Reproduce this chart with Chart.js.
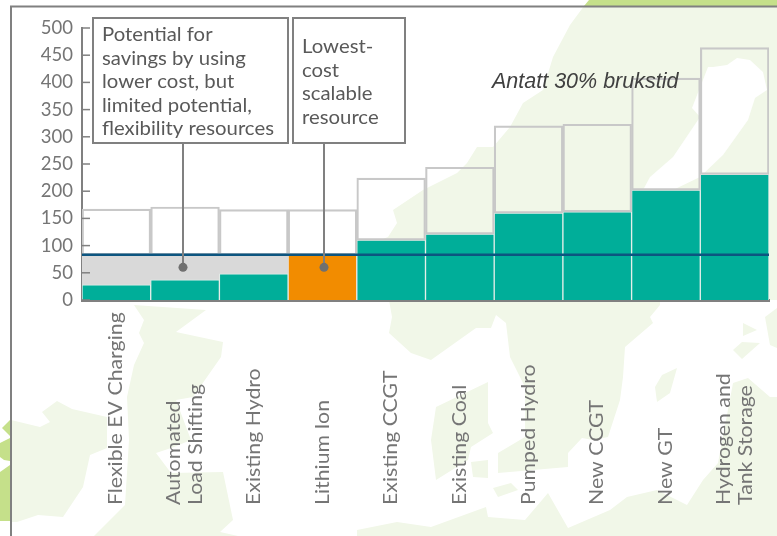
<!DOCTYPE html>
<html>
<head>
<meta charset="utf-8">
<style>
    html, body { margin: 0; padding: 0; background: #fff; }
    #wrap { position: relative; width: 777px; height: 536px; }
</style>
<script src="https://cdn.jsdelivr.net/npm/chart.js@4"></script>
</head>
<body>
<div id="wrap"><canvas id="costChart" width="777" height="536"></canvas></div>
<script>
// Values
const categories = [
    ['Flexible EV Charging'],
    ['Automated', 'Load Shifting'],
    ['Existing Hydro'],
    ['Lithium Ion'],
    ['Existing CCGT'],
    ['Existing Coal'],
    ['Pumped Hydro'],
    ['New CCGT'],
    ['New GT'],
    ['Hydrogen and', 'Tank Storage']
];
const baseCost = [28, 37, 48, null, 110, 121, 160, 162, 202, 231];
const lithiumCost = [null, null, null, 83, null, null, null, null, null, null];
const greyBand = [83, 83, 83, null, null, null, null, null, null, null];
const lowUseCost = [167, 171, 166, 166, 224, 244, 320, 323, 408, 464];
const referenceLevel = 83;
const yTicks = [0, 50, 100, 150, 200, 250, 300, 350, 400, 450, 500];

// Kartet i bakgrunnen (bare pynt)
const paleColor = '#f1f7e8';
const strongGreen = '#c5e08a';
const paleShapes = [
    [[584,6],[570,25],[553,57],[543,90],[523,103],[510,127],[493,147],[477,147],[467,163],[457,173],[423,190],[393,210],[397,223],[388,237],[380,240],[380,300],[777,300],[777,6]],
    [[11,420],[40,427],[50,422],[42,412],[57,401],[72,409],[107,417],[107,448],[90,455],[83,487],[63,517],[38,515],[17,522],[11,522]],
    [[134,305],[206,310],[176,332],[223,342],[221,357],[193,397],[176,400],[191,440],[174,447],[156,453],[171,473],[223,472],[233,520],[220,532],[238,536],[94,536],[125,505],[129,440],[127,397],[134,365],[144,343],[139,333],[144,320]],
    [[389,300],[660,300],[660,305],[650,317],[653,323],[625,347],[623,377],[620,400],[608,437],[593,440],[582,438],[568,453],[568,467],[498,473],[498,453],[525,437],[525,387],[510,357],[506,323],[496,315],[491,328],[476,328],[431,360],[411,353],[389,333],[392,317]],
    [[436,407],[488,382],[488,423],[493,433],[471,447],[468,460],[436,480],[431,440]],
    [[471,462],[488,460],[488,478],[473,477]],
    [[493,488],[511,483],[518,490],[498,497]],
    [[357,530],[397,522],[431,527],[486,507],[488,517],[525,520],[548,493],[568,528],[610,510],[627,497],[657,490],[687,505],[703,480],[718,463],[733,383],[748,378],[770,397],[777,397],[777,536],[357,536]],
    [[743,323],[757,330],[743,336]],
    [[733,350],[742,342],[760,343],[742,359]],
    [[765,317],[777,308],[777,348],[770,345]],
    [[677,368],[662,375],[655,387],[657,402],[670,393]]
];
const whiteHoles = [
    [[713,67],[727,65],[737,58],[750,60],[763,72],[767,90],[755,98],[748,120],[723,155],[700,177],[673,190],[643,190],[650,177],[673,157],[700,117],[692,108],[708,67]]
];
const greenShapes = [
    [[584,6],[589,0],[777,0],[777,6]],
    [[10,420],[2,428],[10,436]],
    [[10,438],[0,443],[0,457],[4,460],[10,461]],
    [[10,465],[0,472],[0,521],[10,521]]
];

function fillShape(ctx, points, color) {
    ctx.fillStyle = color;
    ctx.beginPath();
    points.forEach((p, i) => i ? ctx.lineTo(p[0], p[1]) : ctx.moveTo(p[0], p[1]));
    ctx.closePath();
    ctx.fill();
}

const labelFont = 'Lato, sans-serif';
const textGrey = '#757575';

const backgroundMap = {
    id: 'backgroundMap',
    beforeDraw(chart) {
        const ctx = chart.ctx;
        ctx.save();
        paleShapes.forEach(s => fillShape(ctx, s, paleColor));
        whiteHoles.forEach(s => fillShape(ctx, s, '#fff'));
        greenShapes.forEach(s => fillShape(ctx, s, strongGreen));
        // Ramme
        ctx.strokeStyle = '#808080';
        ctx.lineWidth = 2;
        ctx.beginPath();
        ctx.moveTo(11, 536);
        ctx.lineTo(11, 6.5);
        ctx.lineTo(777, 6.5);
        ctx.stroke();
        ctx.restore();
    }
};

function drawBox(ctx, x, y, w, h, lines, textX, firstBase, lineStep) {
    ctx.fillStyle = '#fff';
    ctx.fillRect(x, y, w, h);
    ctx.strokeStyle = '#808080';
    ctx.lineWidth = 2;
    ctx.strokeRect(x, y, w, h);
    ctx.fillStyle = '#595959';
    ctx.font = '19px ' + labelFont;
    ctx.textAlign = 'left';
    ctx.textBaseline = 'alphabetic';
    lines.forEach((line, i) => {
        ctx.save();
        ctx.translate(textX, firstBase + i * lineStep);
        ctx.scale(1.07, 1); // Century Gothic er bredere enn Lato
        ctx.fillText(line, 0, 0);
        ctx.restore();
    });
}

function drawLeader(ctx, x, y0, y1) {
    ctx.strokeStyle = '#808080';
    ctx.lineWidth = 2;
    ctx.beginPath();
    ctx.moveTo(x, y0);
    ctx.lineTo(x, y1);
    ctx.stroke();
    ctx.fillStyle = '#707070';
    ctx.beginPath();
    ctx.arc(x, y1, 4.5, 0, Math.PI * 2);
    ctx.fill();
}

const chartOverlays = {
    id: 'chartOverlays',
    afterDraw(chart) {
        const ctx = chart.ctx;
        const xScale = chart.scales.x;
        const yScale = chart.scales.y;
        ctx.save();

        // Referanselinje
        const lineY = yScale.getPixelForValue(referenceLevel);
        ctx.strokeStyle = '#0c5580';
        ctx.lineWidth = 2.5;
        ctx.beginPath();
        ctx.moveTo(xScale.left, lineY);
        ctx.lineTo(xScale.right, lineY);
        ctx.stroke();

        // Merker innover fra y-aksen
        ctx.strokeStyle = '#808080';
        ctx.lineWidth = 1.5;
        yTicks.forEach(v => {
            const y = yScale.getPixelForValue(v);
            ctx.beginPath();
            ctx.moveTo(xScale.left, y);
            ctx.lineTo(xScale.left + 8, y);
            ctx.stroke();
        });

        // Kategorier, roterte og med felles startpunkt nederst
        ctx.fillStyle = textGrey;
        ctx.font = '19px ' + labelFont;
        ctx.textAlign = 'left';
        ctx.textBaseline = 'middle';
        categories.forEach((lines, i) => {
            const cx = xScale.getPixelForTick(i);
            lines.forEach((line, j) => {
                ctx.save();
                ctx.translate(cx + (j - (lines.length - 1) / 2) * 22.5, 505);
                ctx.rotate(-Math.PI / 2);
                ctx.scale(1.12, 1);
                ctx.fillText(line, 0, 0);
                ctx.restore();
            });
        });

        drawLeader(ctx, 183, 143, yScale.getPixelForValue(60));
        drawLeader(ctx, 324, 143, yScale.getPixelForValue(60));
        drawBox(ctx, 93, 18, 195, 125, ['Potential for', 'savings by using', 'lower cost, but', 'limited potential,', 'flexibility resources'], 102, 41, 23.6);
        drawBox(ctx, 293, 18, 112, 125, ['Lowest-', 'cost', 'scalable', 'resource'], 302, 53, 23.6);

        ctx.fillStyle = '#404040';
        ctx.font = 'italic 21.5px "Liberation Sans", sans-serif';
        ctx.fillText('Antatt 30% brukstid', 492, 88);
        ctx.restore();
    }
};

const ctx = document.getElementById('costChart').getContext('2d');
new Chart(ctx, {
    type: 'bar',
    data: {
        labels: categories.map(c => c.join(' ')),
        datasets: [
            {
                label: 'Brukstid 30%',
                data: lowUseCost.map((v, i) => [Math.max(baseCost[i] || 0, greyBand[i] || 0, lithiumCost[i] || 0), v]),
                backgroundColor: 'transparent',
                borderColor: '#c8c8c8',
                borderWidth: 1.5,
                borderSkipped: false,
                order: 1
            },
            {
                label: 'Potensial',
                data: greyBand.map(v => v === null ? null : [0, v]),
                backgroundColor: '#d9d9d9',
                borderWidth: 0,
                order: 4
            },
            {
                label: 'Lithium Ion',
                data: lithiumCost.map(v => v === null ? null : [0, v]),
                backgroundColor: '#f28c00',
                borderColor: '#e8e8e8',
                borderWidth: 1,
                order: 3
            },
            {
                label: 'Kostnad',
                data: baseCost.map(v => v === null ? null : [0, v]),
                backgroundColor: '#00ae99',
                borderColor: '#e4eeea',
                borderWidth: 1,
                order: 2
            }
        ]
    },
    options: {
        responsive: false,
        animation: false,
        layout: { padding: { top: 28, right: 8, bottom: 228, left: 0 } },
        plugins: {
            legend: { display: false },
            tooltip: { enabled: false }
        },
        scales: {
            x: {
                stacked: true,
                offset: true,
                grid: { display: false },
                border: { color: '#808080', width: 3 },
                ticks: { display: false }
            },
            y: {
                min: 0,
                max: 500,
                afterFit(scale) { scale.width = 82; },
                afterBuildTicks(scale) { scale.ticks = yTicks.map(v => ({ value: v })); },
                grid: { display: false, drawTicks: false },
                border: { color: '#808080', width: 2 },
                ticks: {
                    color: textGrey,
                    padding: 9,
                    font: { family: 'Lato', size: 18.5 }
                }
            }
        },
        datasets: { bar: { barPercentage: 1, categoryPercentage: 1 } }
    },
    plugins: [backgroundMap, chartOverlays]
});
</script>
</body>
</html>
